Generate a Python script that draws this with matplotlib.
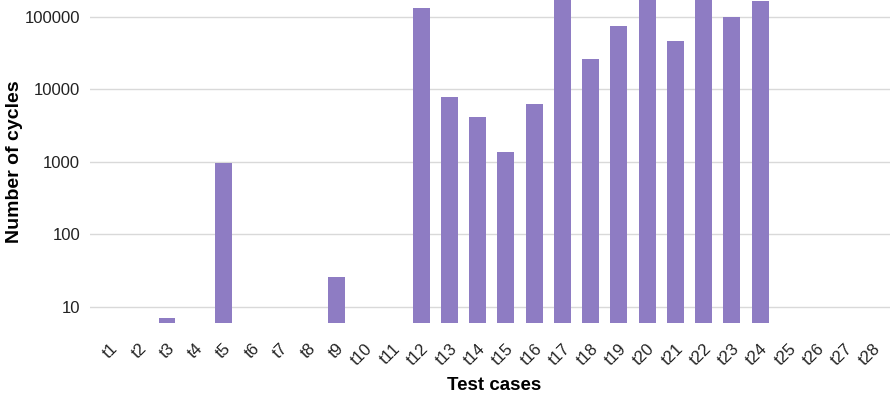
from matplotlib import pyplot as plt
from matplotlib import transforms
import numpy as np

plt.rcParams['font.family'] = ['Liberation Sans', 'DejaVu Sans']

# Test cases and measured cycle counts (0 = nothing to show)
cases = ['t' + str(i) for i in range(1, 29)]
cycles = [0, 0, 7, 0, 950, 0, 0, 0, 25.5, 0, 0,
          130000, 7700, 4200, 1340, 6200, 300000, 26000, 75000, 300000,
          46500, 300000, 98000, 166000,
          0, 0, 0, 0]
yticks = [10, 100, 1000, 10000, 100000]

x = np.arange(len(cases))
fig = plt.figure(figsize=(8.9, 3.97), dpi=100)
ax = fig.add_axes([0.101, 0.187, 0.899, 0.813])

ax.set_yscale('log')
ax.bar(x, cycles, width=0.6, color='#8e7cc3', bottom=0.001, zorder=3)
ax.set_ylim(6.0, 170000)
ax.set_xlim(-0.73, 27.6)

ax.set_yticks(yticks)
ax.set_yticklabels([str(v) for v in yticks], fontsize=12, color='#222222')
ax.minorticks_off()
ax.set_xticks(x)
ax.set_xticklabels(cases, rotation=45, ha='right', rotation_mode='anchor',
                   fontsize=12, color='#222222')
# nudge rotated labels a little to the right, like the original
shift = transforms.ScaledTranslation(8 / 100, 0, fig.dpi_scale_trans)
for lab in ax.get_xticklabels():
    lab.set_transform(lab.get_transform() + shift)

ax.grid(axis='y', color='#d9d9d9', linewidth=1, zorder=0)
ax.tick_params(length=0, pad=7)
ax.tick_params(axis='x', pad=13)
for s in ax.spines.values():
    s.set_visible(False)

#Labeling
ax.set_xlabel('Test cases', fontsize=13.5, fontweight='bold')
ax.set_ylabel('Number of cycles', fontsize=14, fontweight='bold')
ax.xaxis.set_label_coords(0.505, -0.168)
ax.yaxis.set_label_coords(-0.083, 0.5)

fig.savefig('out.png', dpi=100)
